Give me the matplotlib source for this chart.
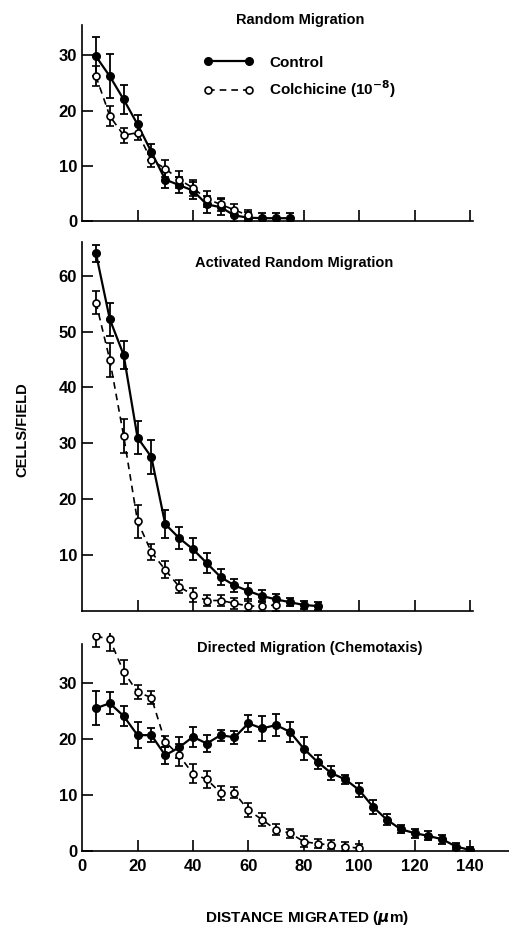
import numpy as np
import matplotlib
matplotlib.use("Agg")
import matplotlib.pyplot as plt
from matplotlib.lines import Line2D

plt.rcParams['font.family'] = ['Liberation Sans', 'DejaVu Sans']
plt.rcParams['font.weight'] = 'bold'

# --- dane ---
# Random Migration
x_rand_ctrl = [5, 10, 15, 20, 25, 30, 35, 40, 45, 50, 55, 60, 65, 70, 75]
y_rand_ctrl = [29.8, 26.2, 22.0, 17.5, 12.5, 7.5, 6.5, 5.5, 3.0, 2.5, 1.0, 0.6, 0.5, 0.5, 0.5]
e_rand_ctrl = [3.5, 4.0, 2.7, 1.7, 1.5, 1.5, 1.5, 1.5, 1.5, 1.5, 1.2, 1.0, 1.0, 1.0, 1.0]
x_rand_col = [5, 10, 15, 20, 25, 30, 35, 40, 45, 50, 55, 60]
y_rand_col = [26.2, 19.0, 15.5, 16.0, 11.0, 9.5, 7.5, 6.0, 4.0, 3.0, 2.0, 1.0]
e_rand_col = [1.8, 1.8, 1.3, 1.3, 1.2, 1.5, 1.5, 1.5, 1.5, 1.2, 1.0, 1.0]

# Activated Random Migration
x_act_ctrl = [5, 10, 15, 20, 25, 30, 35, 40, 45, 50, 55, 60, 65, 70, 75, 80, 85]
y_act_ctrl = [64.0, 52.2, 45.8, 31.0, 27.5, 15.5, 13.0, 11.0, 8.5, 6.0, 4.5, 3.5, 2.6, 2.0, 1.5, 1.0, 0.8]
e_act_ctrl = [1.5, 3.0, 2.5, 3.0, 3.0, 2.5, 2.0, 2.0, 1.8, 1.5, 1.2, 1.5, 1.0, 1.0, 0.7, 0.7, 0.7]
x_act_col = [5, 10, 15, 20, 25, 30, 35, 40, 45, 50, 55, 60, 65, 70]
y_act_col = [55.2, 44.9, 31.3, 16.0, 10.5, 7.3, 4.3, 2.8, 1.8, 1.8, 1.3, 0.8, 0.8, 1.0]
e_act_col = [2.0, 3.0, 3.0, 3.0, 1.5, 1.5, 1.2, 1.2, 1.0, 1.0, 1.0, 1.0, 1.0, 1.0]

# Directed Migration (Chemotaxis)
x_dir_ctrl = list(range(5, 145, 5))
y_dir_ctrl = [25.5, 26.4, 24.1, 20.7, 20.7, 17.1, 18.5, 20.4, 19.2, 20.7, 20.3, 22.8, 21.9, 22.5,
              21.3, 18.3, 15.9, 13.9, 12.8, 10.9, 7.9, 5.6, 3.9, 3.2, 2.7, 2.1, 0.8, 0.2]
e_dir_ctrl = [3.0, 2.0, 1.8, 2.3, 1.3, 1.5, 1.8, 1.8, 1.5, 1.0, 1.2, 1.5, 2.2, 2.0,
              1.8, 2.0, 1.3, 1.3, 0.8, 1.2, 1.2, 1.0, 0.7, 0.8, 0.8, 0.8, 0.6, 0.5]
x_dir_col = list(range(5, 105, 5))
y_dir_col = [38.4, 37.8, 32.0, 28.4, 27.4, 19.5, 17.1, 13.8, 12.8, 10.4, 10.4, 7.3, 5.6, 3.8,
             3.2, 1.7, 1.3, 1.1, 0.8, 0.5]
e_dir_col = [2.0, 2.0, 2.2, 1.2, 1.2, 1.0, 2.0, 1.7, 1.5, 1.2, 1.0, 1.2, 1.2, 1.0,
             0.8, 1.0, 0.8, 0.8, 0.8, 0.8]

titles = ["Random Migration", "Activated Random Migration", "Directed Migration (Chemotaxis)"]
x_ticks = [0, 20, 40, 60, 80, 100, 120, 140]

fig = plt.figure(figsize=(5.1, 9.3), dpi=100)

# pozycje osi (w ułamkach figury)
ax1 = fig.add_axes([0.161, 0.7624, 0.8365, 0.2108])
ax2 = fig.add_axes([0.161, 0.3435, 0.8365, 0.3960])
ax3 = fig.add_axes([0.161, 0.0849, 0.8365, 0.2348])


def rysuj(ax, xc, yc, ec, xo, yo, eo):
    ax.errorbar(xc, yc, yerr=ec, fmt='-o', color='black', lw=1.6, ms=5.5,
                capsize=3, elinewidth=1.3, capthick=1.3, zorder=3)
    ax.errorbar(xo, yo, yerr=eo, fmt='--o', color='black', lw=1.2, ms=5,
                mfc='white', mec='black', mew=1.2, capsize=3, elinewidth=1.3,
                capthick=1.3, dashes=(4, 3), zorder=4)
    ax.set_xlim(0, 154)
    for s in ['top', 'right']:
        ax.spines[s].set_visible(False)
    ax.spines['left'].set_linewidth(1.2)
    ax.spines['bottom'].set_linewidth(1.2)
    ax.set_xticks(x_ticks[1:])
    ax.tick_params(direction='in', length=8, width=1.2, labelsize=12)
    for lab in ax.get_yticklabels():
        lab.set_fontweight('bold')


rysuj(ax1, x_rand_ctrl, y_rand_ctrl, e_rand_ctrl, x_rand_col, y_rand_col, e_rand_col)
ax1.set_ylim(0, 35.5)
ax1.spines['bottom'].set_bounds(0, 141)
ax1.set_yticks([0, 10, 20, 30])
ax1.set_xticklabels([])

# legenda: linia z kółkami na obu końcach
h_ctrl = Line2D([], [], color='black', lw=1.6, marker='o', ms=5.5)
h_col = Line2D([], [], color='black', lw=1.2, ls=(0, (4, 3)), marker='o', ms=5,
               mfc='white', mew=1.2)
ax1.legend([h_ctrl, h_col], ['Control', 'Colchicine (10$^{-8}$)'], numpoints=2,
           loc='center left', bbox_to_anchor=(0.27, 0.73), frameon=False,
           handlelength=3.3, handletextpad=1.0, fontsize=11, borderaxespad=0,
           labelspacing=0.55)

rysuj(ax2, x_act_ctrl, y_act_ctrl, e_act_ctrl, x_act_col, y_act_col, e_act_col)
ax2.set_ylim(0, 66)
ax2.spines['bottom'].set_bounds(0, 141)
ax2.set_yticks([10, 20, 30, 40, 50, 60])
ax2.set_xticklabels([])

rysuj(ax3, x_dir_ctrl, y_dir_ctrl, e_dir_ctrl, x_dir_col, y_dir_col, e_dir_col)
ax3.set_ylim(0, 39)
ax3.spines['left'].set_bounds(0, 37)
ax3.set_yticks([0, 10, 20, 30])
ax3.set_xticks(x_ticks)
ax3.set_xticklabels([str(v) for v in x_ticks], fontweight='bold')
ax3.tick_params(axis='x', pad=6)
ax3.xaxis.get_major_ticks()[0].tick1line.set_visible(False)

for ax, t, (tx, ty) in zip([ax1, ax2, ax3], titles, [(300, 20), (294, 263), (310, 648)]):
    fig.text(tx / 510, 1 - ty / 930, t, ha='center', va='center', fontsize=10.5, fontweight='bold')

fig.text(22 / 510, 1 - 430 / 930, 'CELLS/FIELD', rotation=90, ha='center', va='center',
         fontsize=10.5, fontweight='bold')
fig.text(307 / 510, 1 - 918 / 930, 'DISTANCE MIGRATED ($\\mu$m)', ha='center', va='center',
         fontsize=11, fontweight='bold')

fig.savefig('out.png', dpi=100)
